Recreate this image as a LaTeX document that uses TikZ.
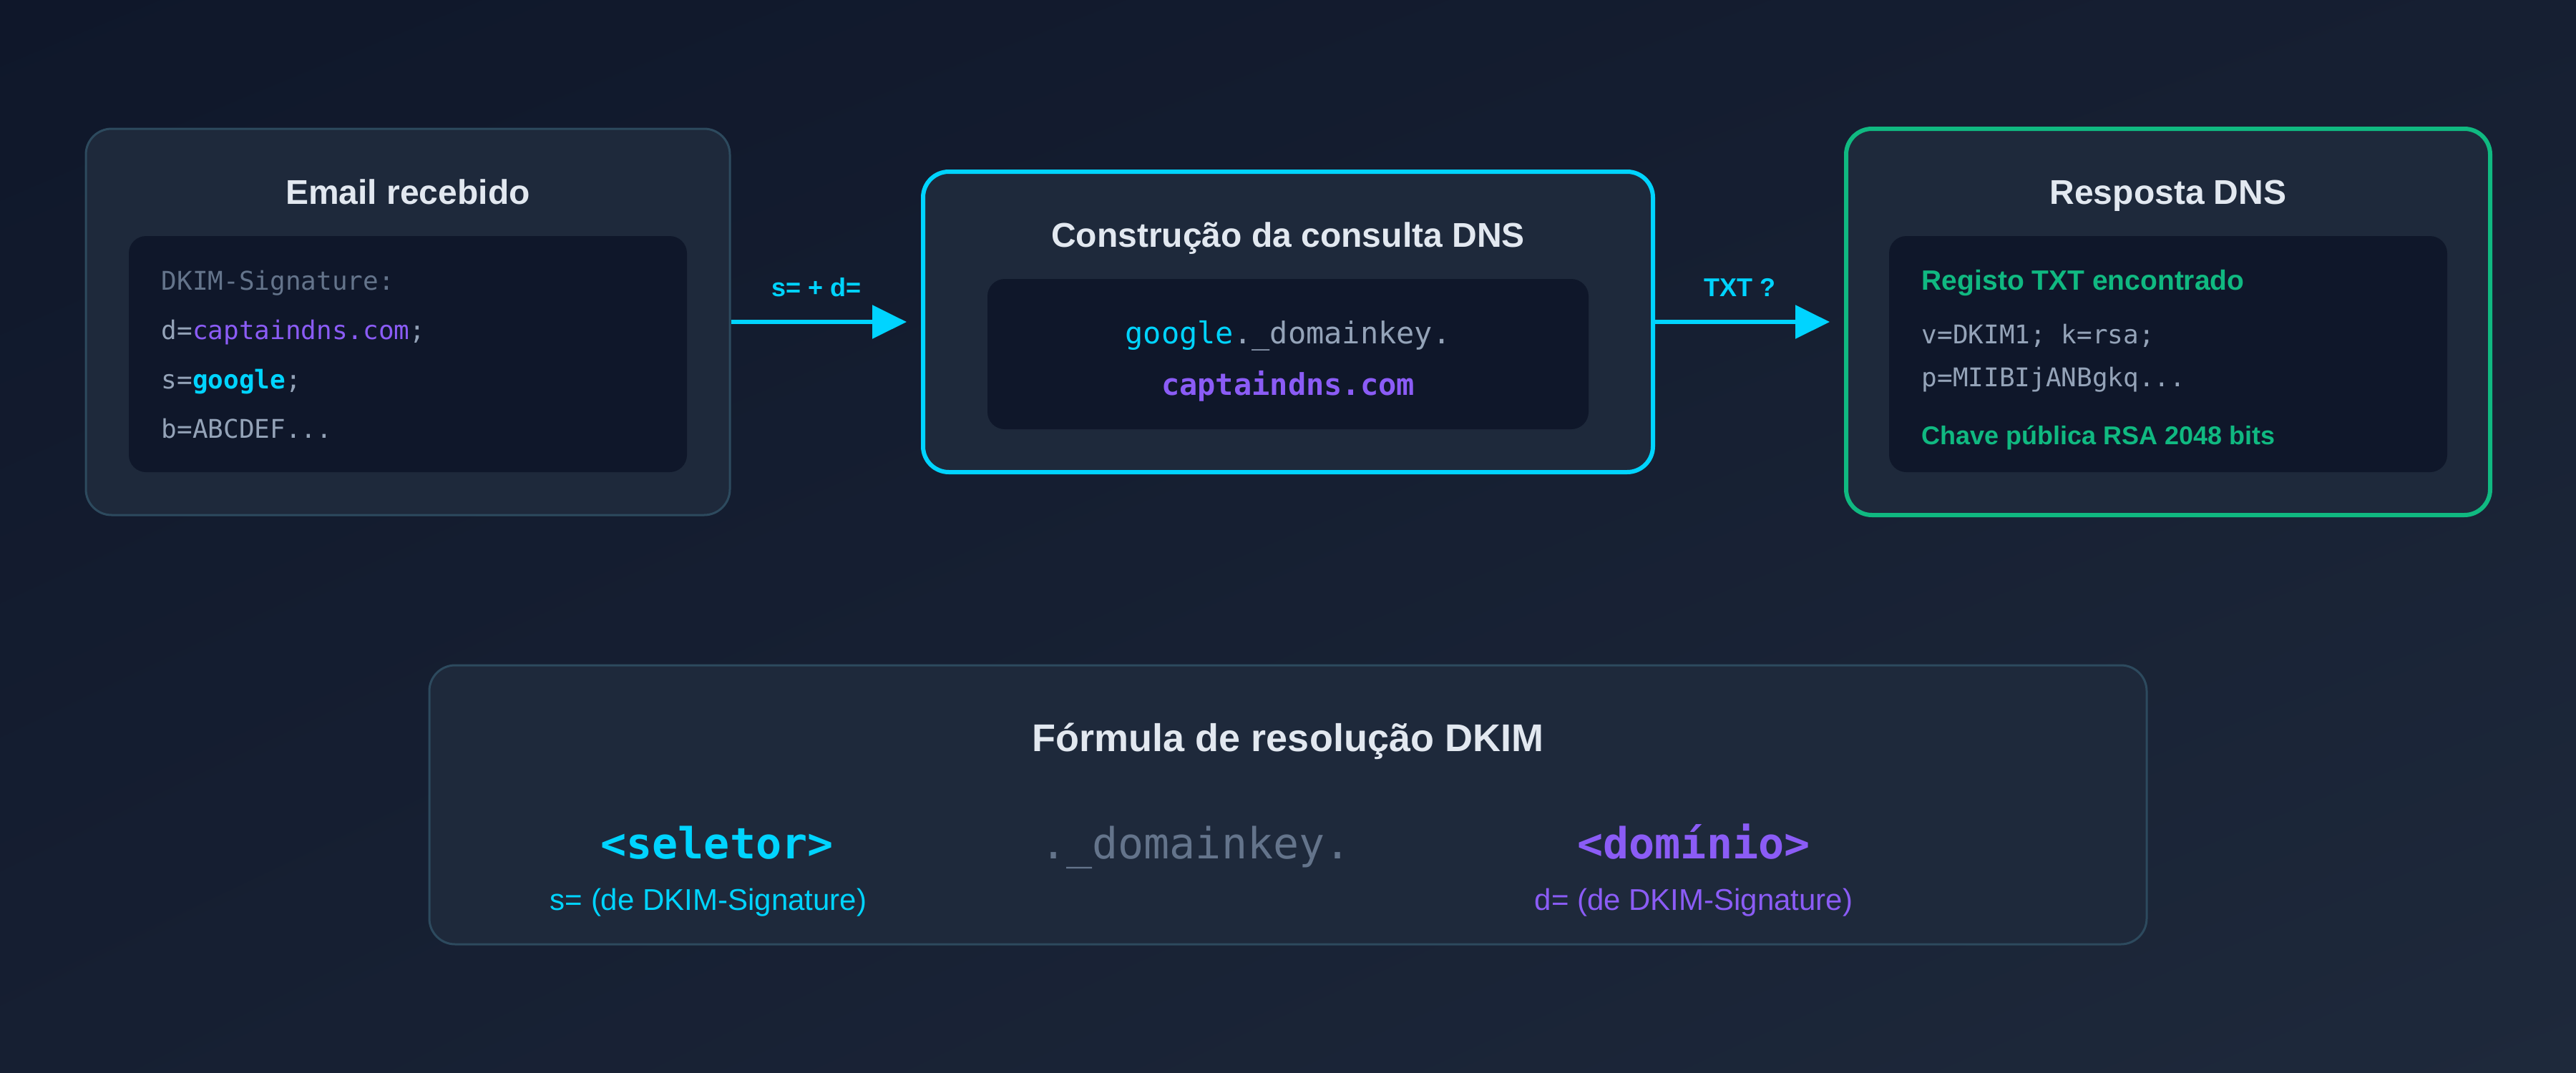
\documentclass[tikz,border=0pt]{standalone}
\usepackage{fontspec}
\setmainfont{Liberation Sans}
\setmonofont{DejaVu Sans Mono}
\usepackage{tikz}
\usetikzlibrary{arrows.meta,positioning,shadings}

\definecolor{bgdark}{HTML}{0F172A}
\definecolor{bglight}{HTML}{1E293B}
\definecolor{bgmid}{HTML}{161F32}
\definecolor{panelfill}{HTML}{1E293B}
\definecolor{codefill}{HTML}{0F172A}
\definecolor{panelline}{HTML}{2D4A5E}
\definecolor{dnscyan}{HTML}{00D4FF}
\definecolor{dnspurple}{HTML}{8B5CF6}
\definecolor{dnsgreen}{HTML}{10B981}
\definecolor{titletext}{HTML}{E2E8F0}
\definecolor{codetext}{HTML}{94A3B8}
\definecolor{dimtext}{HTML}{64748B}

\tikzset{
  panel/.style={draw=panelline, line width=0.75pt, fill=panelfill, rounded corners=9pt},
  codebox/.style={fill=codefill, rounded corners=6pt},
  title/.style={anchor=base, inner sep=0pt, text=titletext, font=\fontsize{12pt}{14pt}\selectfont\bfseries},
  code/.style={anchor=base west, inner sep=0pt, text=codetext, font=\fontsize{9pt}{11pt}\selectfont\ttfamily},
  bigcode/.style={anchor=base, inner sep=0pt, font=\fontsize{15pt}{18pt}\selectfont\ttfamily},
  note/.style={anchor=base, inner sep=0pt, font=\fontsize{10.5pt}{12pt}\selectfont},
  flow/.style={draw=dnscyan, line width=1.5pt, -{Triangle[length=12pt,width=11.5pt]}, shorten >=5pt},
  flowlabel/.style={pos=0.45, anchor=base, inner sep=0pt, yshift=9pt, text=dnscyan, font=\fontsize{9pt}{11pt}\selectfont\bfseries},
}

\begin{document}
\begin{tikzpicture}[x=0.75pt, y=-0.75pt]
	% background
	\shade[upper left=bgdark, lower right=bglight, upper right=bgmid, lower left=bgmid] (0,0) rectangle (1200,500);

	% received mail
	\node[panel, minimum width=225pt, minimum height=135pt] (mail) at (190,150) {};
	\node[title] (mailtitle) at (190,95) {Email recebido};
	\node[codebox, minimum width=195pt, minimum height=82.5pt] (mailcode) at (190,165) {};
	\node[code, text=dimtext] (sighead) at (75,135) {DKIM-Signature:};
	\node[code] (sigd) at (75,158) {d=\textcolor{dnspurple}{captaindns.com};};
	\node[code] (sigs) at (75,181) {s=\textcolor{dnscyan}{\bfseries google};};
	\node[code] (sigb) at (75,204) {b=ABCDEF...};

	% query
	\node[panel, draw=dnscyan, line width=1.5pt, minimum width=255pt, minimum height=105pt] (query) at (600,150) {};
	\node[title] (querytitle) at (600,115) {Construção da consulta DNS};
	\node[codebox, minimum width=210pt, minimum height=52.5pt] (querycode) at (600,165) {};
	\node[anchor=base, inner sep=0pt, text=codetext, font=\fontsize{10.5pt}{12pt}\selectfont\ttfamily] (qname) at (600,160) {\textcolor{dnscyan}{google}.\_domainkey.};
	\node[anchor=base, inner sep=0pt, text=dnspurple, font=\fontsize{10.5pt}{12pt}\selectfont\ttfamily\bfseries] (qdomain) at (600,184) {captaindns.com};

	% answer
	\node[panel, draw=dnsgreen, line width=1.5pt, minimum width=225pt, minimum height=135pt] (answer) at (1010,150) {};
	\node[title] (answertitle) at (1010,95) {Resposta DNS};
	\node[codebox, minimum width=195pt, minimum height=82.5pt] (answercode) at (1010,165) {};
	\node[anchor=base west, inner sep=0pt, text=dnsgreen, font=\fontsize{9.75pt}{12pt}\selectfont\bfseries] (found) at (895,135) {Registo TXT encontrado};
	\node[code] (recv) at (895,160) {v=DKIM1; k=rsa;};
	\node[code] (recp) at (895,180) {p=MIIBIjANBgkq...};
	\node[anchor=base west, inner sep=0pt, text=dnsgreen, font=\fontsize{9pt}{11pt}\selectfont\bfseries] (rsakey) at (895,207) {Chave pública RSA 2048 bits};

	% arrows
	\draw[flow] (mail.east) -- node[flowlabel] (sdlabel) {s= + d=} (query.west);
	\draw[flow] (query.east) -- node[flowlabel] (txtlabel) {TXT ?} (answer.west);

	% formula
	\node[panel, minimum width=600pt, minimum height=97.5pt] (formula) at (600,375) {};
	\node[title, font=\fontsize{13.5pt}{16pt}\selectfont\bfseries] (formulatitle) at (600,350) {Fórmula de resolução DKIM};
	\node[bigcode, text=dnscyan, font=\fontsize{15pt}{18pt}\selectfont\ttfamily\bfseries] (selector) at (334,400) {<seletor>};
	\node[bigcode, text=dimtext] (domainkey) at (557,400) {.\_domainkey.};
	\node[bigcode, text=dnspurple, font=\fontsize{15pt}{18pt}\selectfont\ttfamily\bfseries] (domain) at (789,400) {<domínio>};
	\node[note, text=dnscyan] (selnote) at (330,424) {s= (de DKIM-Signature)};
	\node[note, text=dnspurple] (domnote) at (789,424) {d= (de DKIM-Signature)};
\end{tikzpicture}
\end{document}
